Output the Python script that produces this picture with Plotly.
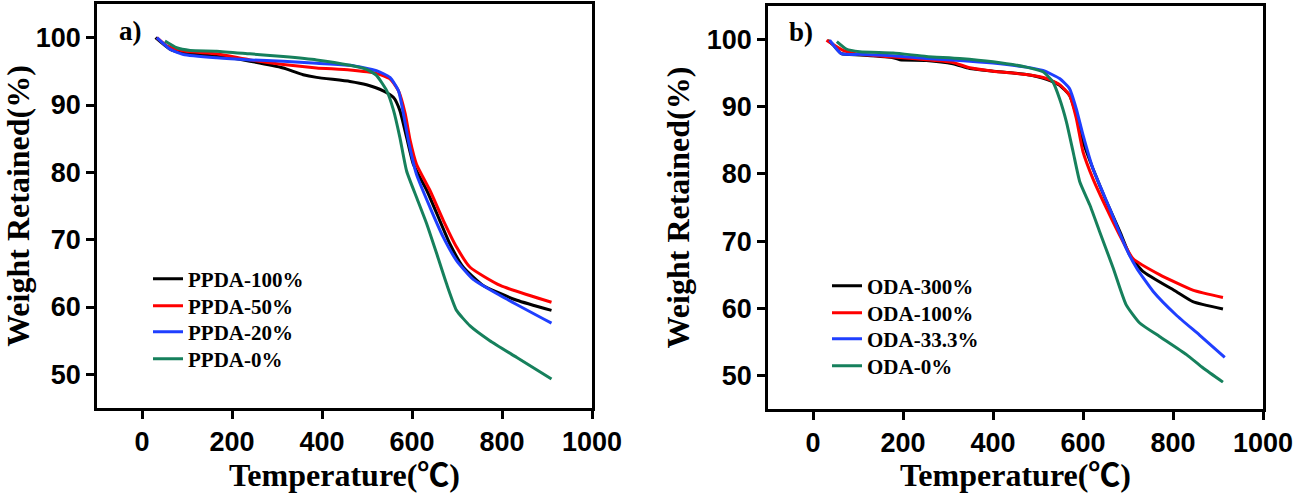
import plotly.graph_objects as go

# ---------------- data: panel a (PPDA) ----------------
ppda100_T = [30, 62, 92, 166, 240, 314, 336, 358, 388, 462, 499, 536, 559, 573, 588, 603, 633, 662, 684, 714, 758, 833, 910]
ppda100_W = [100.0, 98.3, 97.7, 97.3, 96.5, 95.5, 95.0, 94.5, 94.1, 93.5, 93.0, 92.1, 91.1, 89.2, 85.2, 81.2, 77.3, 72.8, 69.4, 65.9, 63.2, 61.0, 59.5]

ppda50_T = [33, 55, 92, 166, 240, 314, 388, 462, 521, 551, 570, 585, 596, 610, 640, 670, 699, 729, 796, 910]
ppda50_W = [100.0, 98.8, 98.0, 97.6, 96.7, 96.0, 95.5, 95.2, 94.7, 93.9, 92.1, 88.7, 84.7, 81.2, 77.3, 72.8, 68.9, 65.9, 63.2, 60.7]

ppda20_T = [33, 62, 92, 166, 240, 314, 388, 462, 521, 551, 570, 581, 592, 610, 640, 670, 699, 736, 796, 910]
ppda20_W = [100.0, 98.3, 97.5, 97.0, 96.7, 96.5, 96.2, 95.9, 95.1, 94.1, 92.1, 88.7, 84.7, 79.7, 74.8, 70.3, 66.9, 64.1, 61.7, 57.6]

ppda0_T = [51, 77, 107, 166, 240, 314, 388, 462, 499, 521, 544, 559, 573, 588, 610, 633, 655, 677, 699, 729, 773, 833, 910]
ppda0_W = [99.5, 98.5, 98.1, 98.0, 97.6, 97.2, 96.7, 95.9, 95.3, 94.4, 92.1, 89.2, 85.2, 80.2, 76.3, 72.3, 67.9, 63.4, 59.5, 57.2, 55.0, 52.5, 49.3]

# ---------------- data: panel b (ODA) ----------------
oda300_T = [33, 45, 63, 104, 178, 193, 252, 311, 348, 400, 474, 519, 548, 570, 585, 600, 622, 652, 682, 704, 733, 807, 844, 911]
oda300_W = [99.9, 99.2, 97.9, 97.7, 97.3, 97.0, 96.9, 96.4, 95.7, 95.3, 94.8, 94.1, 93.2, 91.7, 88.8, 84.8, 80.8, 75.9, 71.4, 67.9, 65.5, 62.5, 61.0, 59.9]

oda100_T = [30, 67, 104, 178, 252, 311, 348, 400, 474, 519, 548, 570, 585, 600, 622, 652, 689, 711, 770, 844, 911]
oda100_W = [99.9, 98.4, 97.8, 97.4, 97.0, 96.6, 95.8, 95.3, 94.8, 94.2, 93.3, 91.7, 88.3, 83.3, 79.3, 74.9, 69.9, 67.4, 65.0, 62.7, 61.6]

oda33_T = [37, 63, 104, 178, 252, 326, 400, 474, 511, 548, 570, 585, 600, 622, 659, 696, 719, 756, 807, 859, 915]
oda33_W = [99.9, 97.9, 97.8, 97.6, 97.2, 96.9, 96.5, 95.9, 95.4, 94.2, 92.7, 89.7, 85.8, 80.8, 74.9, 68.9, 66.0, 62.5, 59.0, 56.0, 52.7]

oda0_T = [53, 74, 104, 178, 252, 326, 400, 474, 511, 533, 548, 563, 578, 593, 615, 637, 667, 696, 726, 770, 830, 867, 911]
oda0_W = [99.7, 98.6, 98.2, 98.0, 97.5, 97.2, 96.7, 95.9, 95.2, 93.7, 91.2, 87.8, 83.3, 78.8, 75.4, 71.4, 66.0, 60.5, 57.8, 55.8, 53.1, 51.1, 49.0]

names_a = ["PPDA-100%", "PPDA-50%", "PPDA-20%", "PPDA-0%"]
names_b = ["ODA-300%", "ODA-100%", "ODA-33.3%", "ODA-0%"]
colors = ["#000000", "#ff0000", "#1f3fff", "#16805c"]

x_ticks = [0, 200, 400, 600, 800, 1000]
y_ticks = [50, 60, 70, 80, 90, 100]

series_a = [(ppda100_T, ppda100_W), (ppda50_T, ppda50_W), (ppda20_T, ppda20_W), (ppda0_T, ppda0_W)]
series_b = [(oda300_T, oda300_W), (oda100_T, oda100_W), (oda33_T, oda33_W), (oda0_T, oda0_W)]

W, H = 1299, 493
tick_font = dict(family="Liberation Sans, Arial", size=27, color="black", weight="bold")
title_font = dict(family="Liberation Serif, Times New Roman, Noto Sans CJK SC", size=32, color="black", weight="bold")
leg_font = dict(family="Liberation Serif, Times New Roman", size=21, color="black", weight="bold")

# legend row layout (pixel positions of entries)
leg_rows_a = [279, 306, 332, 359]
leg_rows_b = [286, 313, 339, 366]
leg_x_a, leg_x_b = 148, 827

fig = go.Figure()
legend_defs = {}
k = 1
for panel, series, names, rows, lx in [("a", series_a, names_a, leg_rows_a, leg_x_a),
                                       ("b", series_b, names_b, leg_rows_b, leg_x_b)]:
    xa, ya = ("x", "y") if panel == "a" else ("x2", "y2")
    for (t, w), n, c, ry in zip(series, names, colors, rows):
        lname = "legend" if k == 1 else f"legend{k}"
        fig.add_trace(go.Scatter(x=t, y=w, name=n, mode="lines", showlegend=True,
                                 line=dict(color=c, width=3, shape="spline", smoothing=0.5),
                                 xaxis=xa, yaxis=ya, legend=lname))
        legend_defs[lname] = dict(x=lx / W, y=1 - ry / H, xanchor="left", yanchor="middle", visible=True,
                                  font=leg_font, bgcolor="rgba(0,0,0,0)", itemwidth=30)
        k += 1

def xax(domain, anchor):
    return dict(domain=domain, anchor=anchor, range=[-100, 1000], tickvals=x_ticks, automargin=False,
                showline=True, linecolor="black", linewidth=2.5, mirror=True,
                ticks="outside", ticklen=8, tickwidth=2.5, tickcolor="black",
                showgrid=False, zeroline=False, tickfont=tick_font,
                title=dict(text="Temperature(℃)", font=title_font, standoff=8))

def yax(domain, anchor):
    return dict(domain=domain, anchor=anchor, range=[45, 105], tickvals=y_ticks, automargin=False,
                showline=True, linecolor="black", linewidth=2.5, mirror=True,
                ticks="outside", ticklen=8, tickwidth=2.5, tickcolor="black",
                showgrid=False, zeroline=False, tickfont=tick_font,
                title=dict(text="Weight Retained(%)", font=title_font, standoff=8))

label_font = dict(family="Liberation Serif, Times New Roman", size=27, color="black", weight="bold")

fig.update_layout(
    width=W, height=H,
    showlegend=True,
    margin=dict(l=0, r=0, t=0, b=0, autoexpand=False),
    paper_bgcolor="white", plot_bgcolor="white",
    xaxis=xax([97 / W, 592 / W], "y"),
    yaxis=yax([1 - 408 / H, 1 - 4 / H], "x"),
    xaxis2=xax([768 / W, 1263 / W], "y2"),
    yaxis2=yax([1 - 409 / H, 1 - 6 / H], "x2"),
    annotations=[
        dict(text="a)", x=130 / W, y=1 - 31 / H, xref="paper", yref="paper", showarrow=False,
             xanchor="center", yanchor="middle", font=label_font),
        dict(text="b)", x=801 / W, y=1 - 32 / H, xref="paper", yref="paper", showarrow=False,
             xanchor="center", yanchor="middle", font=label_font),
    ],
    **legend_defs,
)

fig.write_html("out.html", config={"displayModeBar": False},
               post_script="document.body.style.margin='0px';document.body.style.overflow='hidden';")
